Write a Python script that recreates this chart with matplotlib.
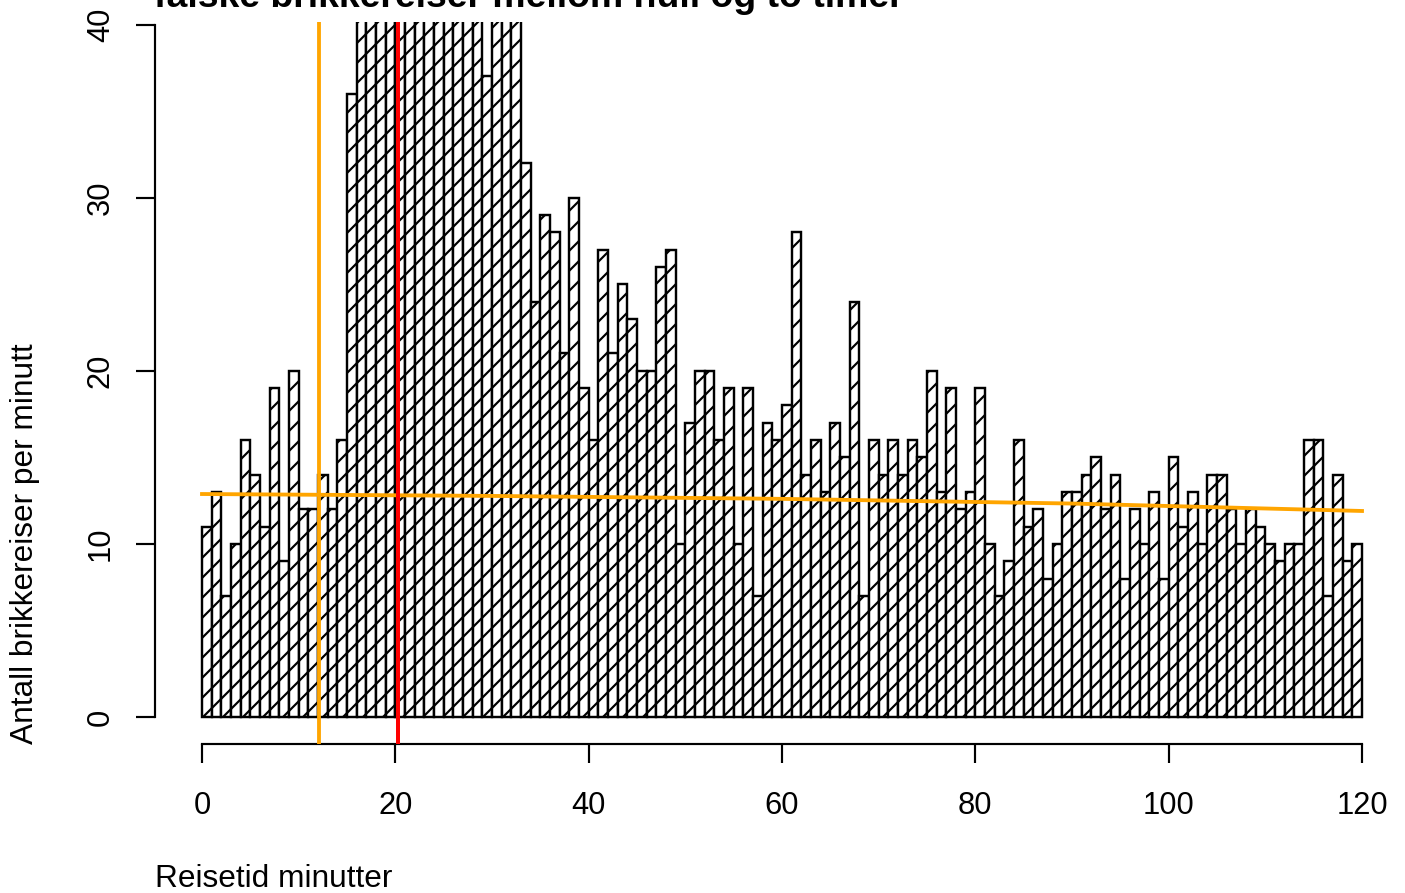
import matplotlib
matplotlib.use("Agg")
import matplotlib.pyplot as plt
import numpy as np

plt.rcParams['font.family'] = ['Liberation Sans', 'DejaVu Sans']

# Counts per minute (bars 16-28 and 30-32 are clipped at 40 in the picture; values above 40 estimated)
counts = [
    11, 13, 7, 10, 16, 14, 11, 19, 9, 20,
    12, 12, 14, 12, 16, 36, 44, 50, 55, 58,
    60, 58, 56, 54, 52, 50, 48, 46, 44, 37,
    43, 42, 41, 32, 24, 29, 28, 21, 30, 19,
    16, 27, 21, 25, 23, 20, 20, 26, 27, 10,
    17, 20, 20, 16, 19, 10, 19, 7, 17, 16,
    18, 28, 14, 16, 13, 17, 15, 24, 7, 16,
    14, 16, 14, 16, 15, 20, 13, 19, 12, 13,
    19, 10, 7, 9, 16, 11, 12, 8, 10, 13,
    13, 14, 15, 12, 14, 8, 12, 10, 13, 8,
    15, 11, 13, 10, 14, 14, 12, 10, 12, 11,
    10, 9, 10, 10, 16, 16, 7, 14, 9, 10,
]
bin_starts = list(range(120))

# Smooth trend line (orange)
trend_x = [0, 30, 60, 90, 120]
trend_y = [12.88, 12.77, 12.6, 12.33, 11.9]

orange_vline = 12.15
red_vline = 20.25

title = "falske brikkereiser mellom null og to timer"
xlabel = "Reisetid minutter"
ylabel = "Antall brikkereiser per minutt"
xticks = [0, 20, 40, 60, 80, 100, 120]
yticks = [0, 10, 20, 30, 40]

W, H, DPI = 1405, 893, 120
fig = plt.figure(figsize=(W / DPI, H / DPI), dpi=DPI)
plt.rcParams['hatch.linewidth'] = 1.3

# axes rectangle in pixels
left_px, right_px, top_px, bottom_px = 155, 1405, 22, 744
ax = fig.add_axes([left_px / W, (H - bottom_px) / H,
                   (right_px - left_px) / W, (bottom_px - top_px) / H])
x0_px, x120_px = 202, 1362
pxu = (x120_px - x0_px) / 120.0
y0_px, y40_px = 717, 24.5
pyu = (y0_px - y40_px) / 40.0
ax.set_xlim((left_px - x0_px) / pxu, (right_px - x0_px) / pxu)
ax.set_ylim((y0_px - bottom_px) / pyu, (y0_px - top_px) / pyu)

ax.bar(bin_starts, counts, width=1.0, align='edge', facecolor='white',
       edgecolor='black', linewidth=1.45, hatch='//', zorder=2)

ax.plot(trend_x, trend_y, color='orange', linewidth=2.3, zorder=3)
ax.axvline(orange_vline, color='orange', linewidth=2.3, zorder=3)
ax.axvline(red_vline, color='red', linewidth=2.4, zorder=3)

for s in ['top', 'right']:
    ax.spines[s].set_visible(False)
ax.spines['bottom'].set_bounds(0, 120)
ax.spines['left'].set_bounds(0, 40)
for s in ['bottom', 'left']:
    ax.spines[s].set_linewidth(1.3)

ax.set_xticks(xticks)
ax.set_yticks(yticks)
ax.set_xticklabels([str(v) for v in xticks])
ax.set_yticklabels([str(v) for v in yticks])
ax.tick_params(axis='x', length=11.4, width=1.3, pad=17, labelsize=18.5)
ax.tick_params(axis='y', length=11.4, width=1.3, pad=12, labelsize=18.5)
for lab in ax.get_yticklabels():
    lab.set_rotation(90)
    lab.set_va('center')
    lab.set_ha('right')

fig.text(154 / W, (H - 7) / H, title, fontsize=22.4, fontweight='bold',
         ha='left', va='baseline')
fig.text(155 / W, (H - 887) / H, xlabel, fontsize=19, ha='left', va='baseline')
fig.text(25 / W, (H - 744) / H, ylabel, fontsize=19, rotation=90,
         ha='center', va='bottom')

fig.savefig('out.png', dpi=DPI)
